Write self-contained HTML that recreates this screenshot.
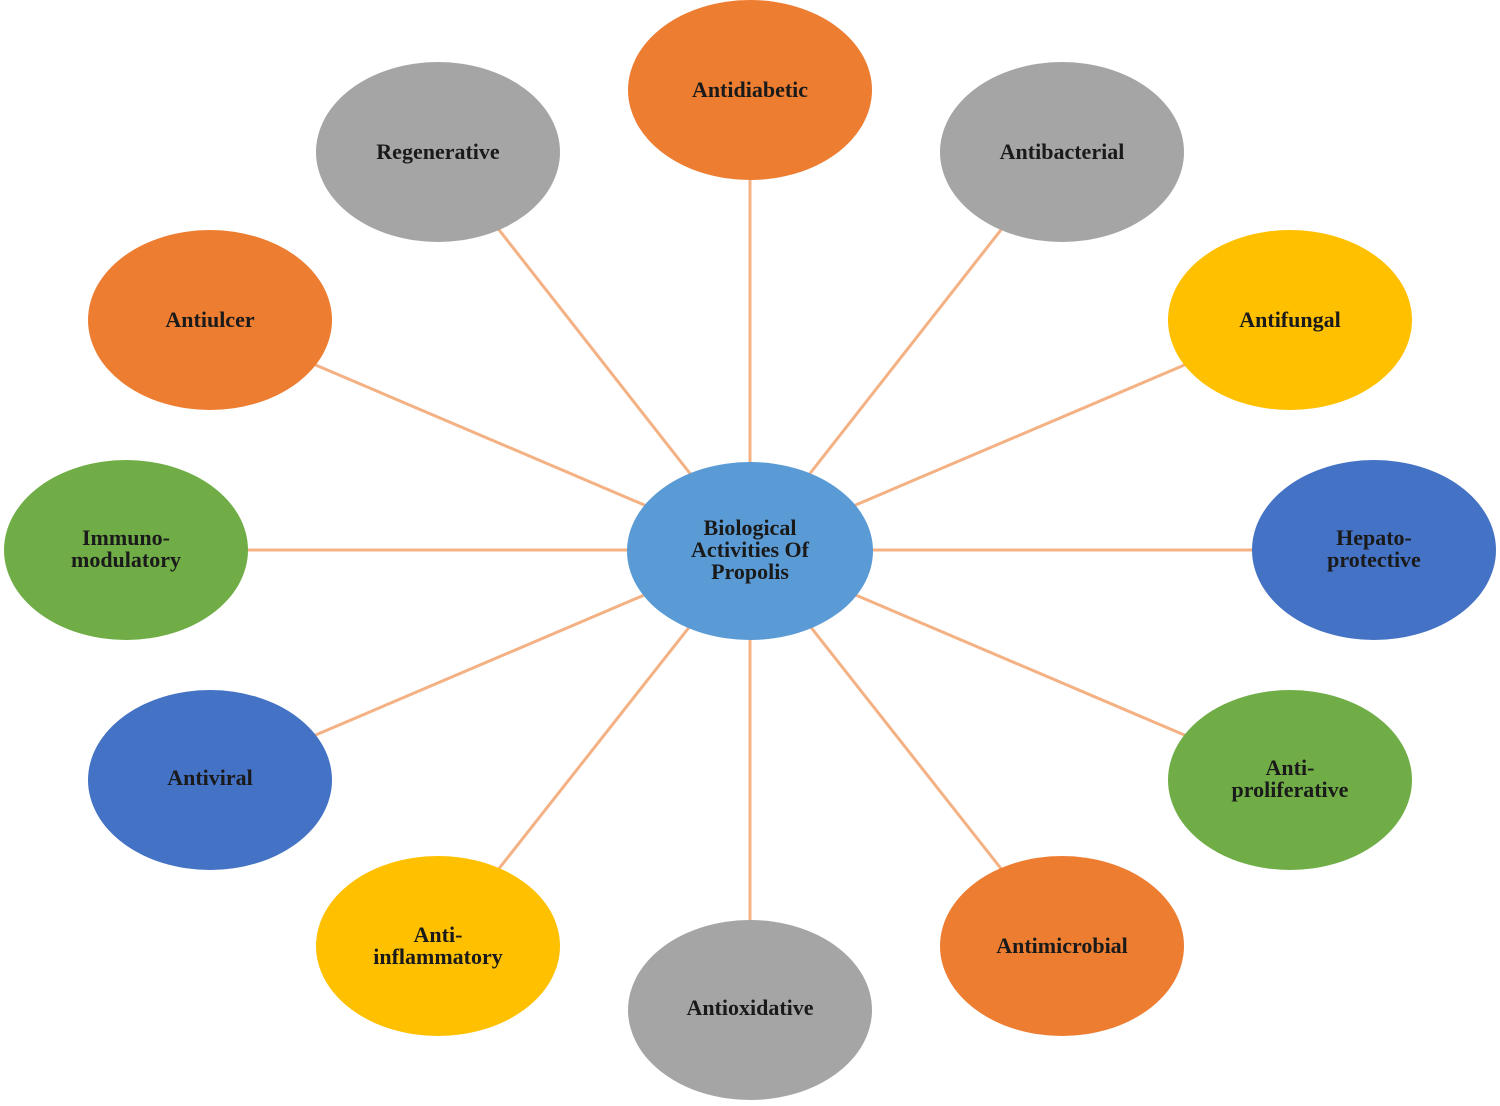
<!DOCTYPE html>
<html><head><meta charset="utf-8"><style>
html,body{margin:0;padding:0;background:#fff;}
svg text{font-family:"Liberation Serif",serif;font-weight:bold;font-size:22px;fill:#1a1a1a;text-anchor:middle;}
</style></head><body>
<svg width="1500" height="1101" viewBox="0 0 1500 1101" xmlns="http://www.w3.org/2000/svg">
<g stroke="#F4B183" stroke-width="3">
<line x1="750" y1="550" x2="750" y2="90"/>
<line x1="750" y1="550" x2="438" y2="152"/>
<line x1="750" y1="550" x2="1062" y2="152"/>
<line x1="750" y1="550" x2="210" y2="320"/>
<line x1="750" y1="550" x2="1290" y2="320"/>
<line x1="750" y1="550" x2="126" y2="550"/>
<line x1="750" y1="550" x2="1374" y2="550"/>
<line x1="750" y1="550" x2="210" y2="780"/>
<line x1="750" y1="550" x2="1290" y2="780"/>
<line x1="750" y1="550" x2="438" y2="946"/>
<line x1="750" y1="550" x2="1062" y2="946"/>
<line x1="750" y1="550" x2="750" y2="1010"/>
</g>
<g>
<ellipse cx="750" cy="551" rx="123" ry="89" fill="#5B9BD5"/>
<ellipse cx="750" cy="90" rx="122" ry="90" fill="#ED7D31"/>
<ellipse cx="438" cy="152" rx="122" ry="90" fill="#A5A5A5"/>
<ellipse cx="1062" cy="152" rx="122" ry="90" fill="#A5A5A5"/>
<ellipse cx="210" cy="320" rx="122" ry="90" fill="#ED7D31"/>
<ellipse cx="1290" cy="320" rx="122" ry="90" fill="#FFC000"/>
<ellipse cx="126" cy="550" rx="122" ry="90" fill="#70AD47"/>
<ellipse cx="1374" cy="550" rx="122" ry="90" fill="#4472C4"/>
<ellipse cx="210" cy="780" rx="122" ry="90" fill="#4472C4"/>
<ellipse cx="1290" cy="780" rx="122" ry="90" fill="#70AD47"/>
<ellipse cx="438" cy="946" rx="122" ry="90" fill="#FFC000"/>
<ellipse cx="1062" cy="946" rx="122" ry="90" fill="#ED7D31"/>
<ellipse cx="750" cy="1010" rx="122" ry="90" fill="#A5A5A5"/>
</g>
<text x="750" y="535">Biological</text>
<text x="750" y="557">Activities Of</text>
<text x="750" y="579">Propolis</text>
<text x="750" y="97">Antidiabetic</text>
<text x="438" y="159">Regenerative</text>
<text x="1062" y="159">Antibacterial</text>
<text x="210" y="327">Antiulcer</text>
<text x="1290" y="327">Antifungal</text>
<text x="126" y="545">Immuno-</text>
<text x="126" y="567">modulatory</text>
<text x="1374" y="545">Hepato-</text>
<text x="1374" y="567">protective</text>
<text x="210" y="785">Antiviral</text>
<text x="1290" y="775">Anti-</text>
<text x="1290" y="797">proliferative</text>
<text x="438" y="942">Anti-</text>
<text x="438" y="964">inflammatory</text>
<text x="1062" y="953">Antimicrobial</text>
<text x="750" y="1015">Antioxidative</text>
</svg>
</body></html>
